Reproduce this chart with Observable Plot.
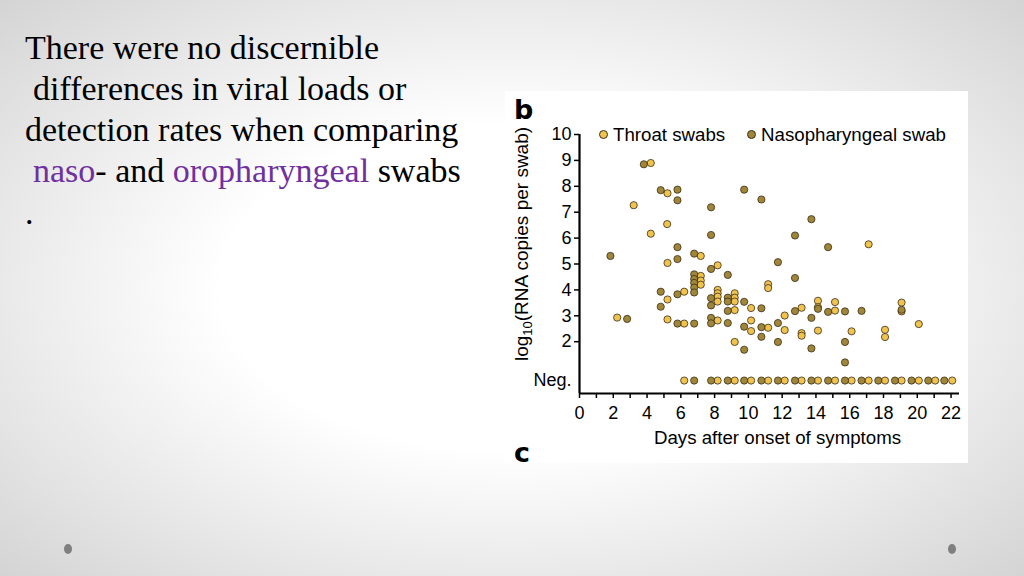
<!DOCTYPE html>
<html>
<head>
<meta charset="utf-8">
<script src="https://cdn.jsdelivr.net/npm/d3@7"></script>
<script src="https://cdn.jsdelivr.net/npm/@observablehq/plot@0.6"></script>
<style>
  html, body { margin: 0; padding: 0; }
  body {
    width: 1024px; height: 576px; overflow: hidden; position: relative;
    background: radial-gradient(ellipse farthest-corner at 50% 50%, #ffffff 40%, #d4d4d4 100%);
  }
  .tl {
    position: absolute; left: 25px;
    font-family: "Liberation Serif", "Times New Roman", serif;
    font-size: 34px; line-height: 38px; white-space: nowrap; color: #000;
  }
  .tl .hl { color: #7030A0; }
  .bullet { position: absolute; width: 8px; height: 10px; border-radius: 50%; background: #7f7f7f; top: 544px; }
  #panel { position: absolute; left: 505px; top: 91px; width: 463px; height: 372px; background: #fff; }
  #panel svg { position: absolute; left: 0; top: 0; }
  .letter { position: absolute; font-family: "DejaVu Sans", sans-serif; font-weight: bold; font-size: 27px; line-height: 1; color: #000; }
  #ylab {
    position: absolute; font-family: "Liberation Sans", Arial, sans-serif; font-size: 19px; white-space: nowrap;
    left: 18px; top: 153px; transform: translate(-50%, -50%) rotate(-90deg); color: #000;
  }
  #ylab sub { font-size: 13px; vertical-align: -4px; }
  .leg { position: absolute; top: 34px; font-family: "Liberation Sans", Arial, sans-serif; font-size: 18.7px; line-height: 20px; white-space: nowrap; color: #000; }
  .leg .sw { display: inline-block; width: 7px; height: 7px; border-radius: 50%; border: 0.8px solid #3b2f1a; margin-right: 5px; vertical-align: 2px; }
</style>
</head>
<body>
<div class="tl" style="top:29px">There were no discernible</div>
<div class="tl" style="top:70px; left:33px">differences in viral loads or</div>
<div class="tl" style="top:111px">detection rates when comparing</div>
<div class="tl" style="top:152px; left:33px"><span class="hl">naso</span><span>- and </span><span class="hl">oropharyngeal</span><span> swabs</span></div>
<div class="tl" style="top:194px">.</div>
<div class="bullet" style="left:64px"></div>
<div class="bullet" style="left:948px"></div>
<div id="panel">
  <div class="letter" style="left:9px; top:5px">b</div>
  <div class="letter" style="left:9px; top:348px">c</div>
  <div id="ylab">log<sub>10</sub>(RNA copies per swab)</div>
  <div class="leg" id="legT" style="left:94px"></div>
  <div class="leg" id="legN" style="left:242px"></div>
</div>
<script>
// Series names
const seriesNames = ["Throat swabs", "Nasopharyngeal swab"];

// Throat swabs: detected values (days after onset, log10 RNA copies per swab)
const throatDays  = [4.22, 3.21, 5.21, 5.19, 4.22, 7.18, 5.21, 8.18, 7.18, 7.18, 7.18, 5.21, 6.20, 8.18, 8.18, 8.18, 8.18, 2.23, 5.21, 6.20, 8.18, 9.19, 9.19, 9.19, 9.19, 9.19, 10.16, 10.16, 10.16, 11.17, 11.17, 11.17, 12.15, 12.15, 13.15, 13.15, 13.15, 14.12, 14.12, 14.12, 15.13, 15.13, 16.11, 17.12, 18.09, 18.09, 19.07, 19.07, 20.09];
const throatLoads = [8.90, 7.27, 7.73, 6.54, 6.17, 5.31, 5.04, 4.95, 4.54, 4.36, 4.20, 3.63, 3.93, 4.00, 3.87, 3.74, 3.55, 2.93, 2.86, 2.70, 2.82, 3.87, 3.70, 3.55, 3.22, 1.99, 3.30, 2.82, 2.41, 4.22, 4.07, 2.54, 3.01, 2.45, 3.31, 2.33, 2.23, 3.58, 3.33, 2.43, 3.53, 3.20, 2.40, 5.76, 2.46, 2.18, 3.51, 3.17, 2.68];
// Throat swabs: negative results
const throatNegDays = [6.20, 8.18, 9.19, 10.16, 11.17, 12.15, 13.15, 14.12, 15.13, 16.11, 17.12, 18.09, 19.07, 20.09, 21.06, 22.07];

// Nasopharyngeal swabs: detected values
const nasoDays  = [3.81, 4.81, 5.80, 5.80, 7.79, 7.79, 9.75, 10.77, 13.73, 12.76, 14.72, 5.80, 6.79, 1.83, 5.80, 11.75, 7.79, 8.78, 12.76, 6.79, 6.79, 6.79, 6.79, 4.81, 5.80, 6.79, 7.79, 7.79, 4.81, 8.78, 8.78, 8.78, 9.75, 10.77, 12.76, 13.73, 14.12, 14.72, 15.72, 16.70, 19.07, 2.82, 5.80, 6.79, 7.79, 7.79, 8.78, 9.75, 10.77, 10.77, 11.75, 11.75, 13.73, 9.75, 15.72, 15.72];
const nasoLoads = [8.85, 7.85, 7.87, 7.46, 7.19, 6.12, 7.87, 7.49, 6.73, 6.10, 5.65, 5.65, 5.40, 5.31, 5.19, 5.07, 4.81, 4.58, 4.46, 4.60, 4.42, 4.27, 4.09, 3.93, 3.83, 3.90, 3.68, 3.40, 3.35, 3.70, 3.55, 3.19, 3.54, 3.29, 3.18, 2.92, 3.27, 3.15, 3.17, 3.19, 3.23, 2.88, 2.70, 2.70, 2.92, 2.71, 2.72, 2.58, 2.56, 2.19, 2.72, 1.99, 1.74, 1.69, 1.99, 1.20];
// Nasopharyngeal swabs: negative results
const nasoNegDays = [6.79, 7.79, 8.78, 9.75, 10.77, 11.75, 12.76, 13.73, 14.72, 15.72, 16.70, 17.69, 18.68, 19.66, 20.65, 21.60];

// Axis ticks
const xTicks = d3.range(0, 23);
const xLabelTicks = [0, 2, 4, 6, 8, 10, 12, 14, 16, 18, 20, 22];
const yTicks = [2, 3, 4, 5, 6, 7, 8, 9, 10];
const negLabel = "Neg.";
const NEG_LEVEL = 0.5; // where the "Neg." category sits on the y axis

const throatColor = "#F0C24E";
const nasoColor = "#A08638";
const dotStroke = "#3b2f1a";

const data = [];
throatDays.forEach((d, i) => data.push({day: d, load: throatLoads[i], type: seriesNames[0]}));
nasoDays.forEach((d, i) => data.push({day: d, load: nasoLoads[i], type: seriesNames[1]}));
throatNegDays.forEach(d => data.push({day: d, load: NEG_LEVEL, type: seriesNames[0]}));
nasoNegDays.forEach(d => data.push({day: d, load: NEG_LEVEL, type: seriesNames[1]}));

const font = "'Liberation Sans', Arial, Helvetica, sans-serif";

const plot = Plot.plot({
  width: 463,
  height: 372,
  marginLeft: 74,
  marginRight: 9,
  marginTop: 43,
  marginBottom: 70,
  x: {domain: [0, 22.5]},
  y: {domain: [0, 10]},
  color: {domain: seriesNames, range: [throatColor, nasoColor]},
  style: {fontFamily: font, fontSize: "18px", background: "transparent", color: "#000", overflow: "visible"},
  marks: [
    Plot.axisX({ticks: xTicks, tickFormat: d => xLabelTicks.includes(d) ? String(d) : "", tickSize: 5, tickPadding: 8, label: null, fontSize: 18, strokeWidth: 1.5}),
    Plot.axisY({ticks: yTicks, tickSize: 5, tickPadding: 3, label: null, fontSize: 18, strokeWidth: 1.5}),
    Plot.axisY({ticks: [NEG_LEVEL], tickSize: 0, tickPadding: 8, tickFormat: () => negLabel, label: null, fontSize: 18}),
    Plot.ruleX([0], {strokeWidth: 2.2, stroke: "#000"}),
    Plot.ruleY([0], {strokeWidth: 2.2, stroke: "#000"}),
    Plot.dot(data, {x: "day", y: "load", fill: "type", stroke: dotStroke, strokeWidth: 0.8, r: 3.6}),
    Plot.text(["Days after onset of symptoms"], {frameAnchor: "bottom", dy: 50, dx: 8, fontSize: 18.7, fill: "#000"})
  ]
});
document.getElementById("panel").appendChild(plot);

// Legend (HTML)
const col = plot.scale("color");
function fillLeg(id, name) {
  const el = document.getElementById(id);
  const sw = document.createElement("span");
  sw.className = "sw";
  sw.style.background = col.apply(name);
  el.appendChild(sw);
  el.appendChild(document.createTextNode(name));
}
fillLeg("legT", seriesNames[0]);
fillLeg("legN", seriesNames[1]);
</script>
</body>
</html>
